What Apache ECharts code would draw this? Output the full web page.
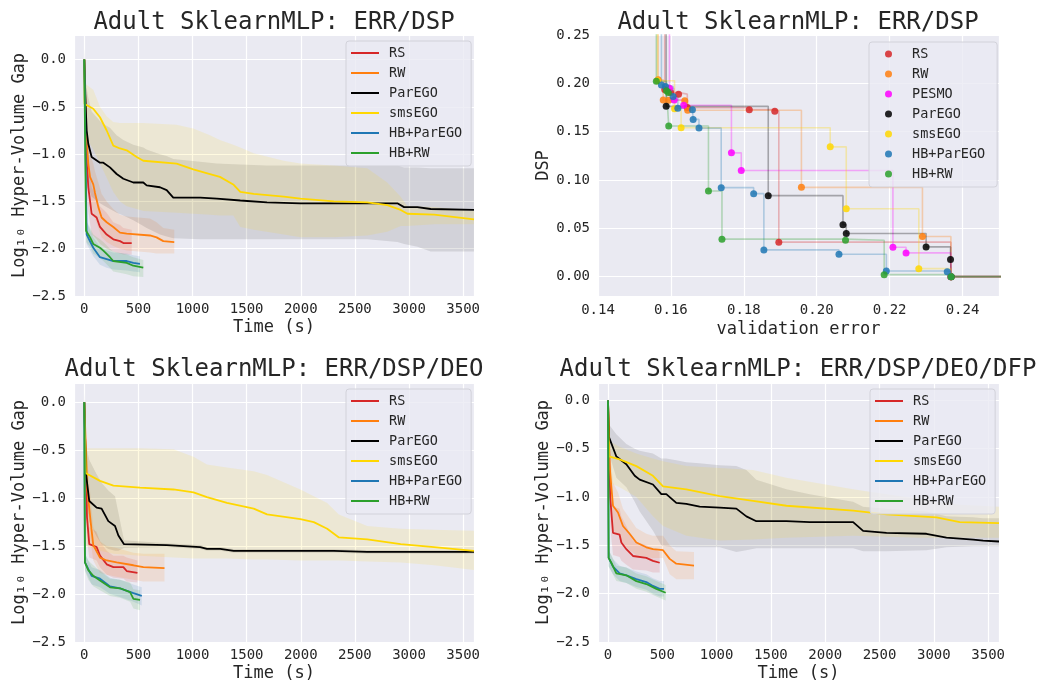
<!DOCTYPE html>
<html>
<head>
<meta charset="utf-8">
<script src="https://cdn.jsdelivr.net/npm/echarts@6/dist/echarts.min.js"></script>
<style>
  html, body { margin: 0; padding: 0; background: #ffffff; }
  #chart { width: 1038px; height: 683px; }
</style>
</head>
<body>
<div id="chart"></div>
<script>
// ---------------- data ----------------
const methods = ['RS', 'RW', 'ParEGO', 'smsEGO', 'HB+ParEGO', 'HB+RW'];
const frontMethods = ['RS', 'RW', 'PESMO', 'ParEGO', 'smsEGO', 'HB+ParEGO', 'HB+RW'];
const titles = [
  'Adult SklearnMLP: ERR/DSP',
  'Adult SklearnMLP: ERR/DSP',
  'Adult SklearnMLP: ERR/DSP/DEO',
  'Adult SklearnMLP: ERR/DSP/DEO/DFP'
];
const timeTicks = [0, 500, 1000, 1500, 2000, 2500, 3000, 3500];

// rows: [time (s), mean log10 HV gap, lower, upper]
// --- ERR/DSP ---
const d1_RS = [[0,0,0,0],[22,-1.07,-1.35,-0.85],[37,-1.35,-1.6,-1.1],[68,-1.63,-1.85,-1.35],[114,-1.67,-1.9,-1.45],[145,-1.77,-1.95,-1.55],[207,-1.85,-2.0,-1.62],[268,-1.9,-2.03,-1.72],[330,-1.92,-2.05,-1.75],[361,-1.94,-2.06,-1.78],[438,-1.94,-2.06,-1.8]];
const d1_RW = [[0,0,0,0],[16,-0.75,-1.0,-0.5],[37,-1.1,-1.35,-0.85],[53,-1.24,-1.5,-1.0],[83,-1.32,-1.6,-1.1],[99,-1.41,-1.68,-1.18],[130,-1.56,-1.78,-1.3],[160,-1.67,-1.88,-1.42],[207,-1.72,-1.93,-1.5],[268,-1.77,-1.97,-1.58],[330,-1.83,-2.0,-1.64],[392,-1.84,-2.02,-1.66],[607,-1.86,-2.04,-1.68],[668,-1.88,-2.05,-1.72],[730,-1.92,-2.05,-1.78],[831,-1.93,-2.05,-1.8]];
const d1_ParEGO = [[0,0,-0.1,0.12],[12,-0.47,-0.75,-0.2],[22,-0.75,-1.1,-0.3],[37,-0.89,-1.35,-0.4],[68,-1.03,-1.45,-0.55],[145,-1.09,-1.52,-0.65],[176,-1.09,-1.54,-0.68],[237,-1.14,-1.58,-0.72],[299,-1.21,-1.62,-0.8],[361,-1.26,-1.65,-0.85],[453,-1.3,-1.7,-0.9],[545,-1.3,-1.76,-0.93],[576,-1.33,-1.78,-0.95],[699,-1.35,-1.85,-1.0],[761,-1.38,-1.87,-1.02],[822,-1.46,-1.89,-1.05],[1071,-1.46,-1.9,-1.08],[1225,-1.47,-1.9,-1.1],[1441,-1.49,-1.9,-1.11],[1688,-1.51,-1.9,-1.12],[1997,-1.52,-1.9,-1.12],[2614,-1.52,-1.9,-1.12],[2892,-1.52,-1.93,-1.12],[2954,-1.56,-1.95,-1.14],[3077,-1.56,-1.98,-1.14],[3200,-1.58,-2.03,-1.15],[3600,-1.59,-2.03,-1.15]];
const d1_smsEGO = [[0,0,0,0],[3,-0.47,-0.8,-0.25],[83,-0.52,-0.95,-0.32],[145,-0.61,-1.1,-0.5],[207,-0.75,-1.25,-0.6],[268,-0.91,-1.4,-0.66],[330,-0.94,-1.5,-0.67],[392,-0.96,-1.55,-0.67],[484,-1.03,-1.58,-0.67],[545,-1.07,-1.6,-0.67],[853,-1.1,-1.62,-0.69],[1007,-1.16,-1.63,-0.73],[1161,-1.21,-1.64,-0.8],[1253,-1.24,-1.65,-0.85],[1376,-1.32,-1.65,-0.9],[1441,-1.4,-1.77,-0.93],[1565,-1.42,-1.8,-0.99],[1843,-1.45,-1.85,-1.07],[1997,-1.47,-1.88,-1.1],[2306,-1.5,-1.88,-1.12],[2614,-1.51,-1.86,-1.15],[2799,-1.54,-1.82,-1.3],[2923,-1.59,-1.76,-1.45],[2985,-1.63,-1.76,-1.55],[3231,-1.64,-1.74,-1.56],[3600,-1.69,-1.74,-1.6]];
const d1_HBParEGO = [[0,0,0,0],[22,-1.85,-1.95,-1.72],[83,-1.99,-2.08,-1.88],[145,-2.09,-2.17,-1.98],[207,-2.11,-2.2,-2.02],[268,-2.13,-2.22,-2.04],[392,-2.13,-2.23,-2.05],[453,-2.15,-2.24,-2.07],[514,-2.16,-2.25,-2.08]];
const d1_HBRW = [[0,0,0,0],[16,-1.81,-1.93,-1.7],[54,-1.88,-1.98,-1.78],[83,-1.95,-2.05,-1.85],[145,-1.99,-2.1,-1.9],[176,-2.02,-2.13,-1.93],[237,-2.09,-2.2,-2.0],[268,-2.13,-2.24,-2.03],[392,-2.15,-2.27,-2.06],[453,-2.18,-2.29,-2.09],[545,-2.2,-2.3,-2.12]];

// --- ERR/DSP/DEO ---
const d3_RS = [[0,0,0,0],[25,-1.2,-1.45,-0.85],[46,-1.48,-1.62,-1.3],[114,-1.51,-1.65,-1.35],[145,-1.6,-1.72,-1.45],[207,-1.69,-1.8,-1.55],[269,-1.72,-1.83,-1.6],[361,-1.72,-1.84,-1.6],[392,-1.76,-1.87,-1.62],[491,-1.78,-1.88,-1.65]];
const d3_RW = [[0,0,0,0],[28,-0.91,-1.2,-0.6],[59,-1.25,-1.45,-1.0],[83,-1.49,-1.65,-1.3],[145,-1.62,-1.78,-1.45],[207,-1.65,-1.8,-1.5],[299,-1.67,-1.82,-1.52],[454,-1.7,-1.85,-1.57],[546,-1.72,-1.87,-1.58],[741,-1.73,-1.87,-1.58]];
const d3_ParEGO = [[0,0,-0.1,0.1],[15,-0.74,-1.0,-0.45],[46,-1.03,-1.25,-0.6],[114,-1.1,-1.4,-0.75],[160,-1.11,-1.48,-0.84],[222,-1.24,-1.53,-0.92],[284,-1.29,-1.55,-0.98],[315,-1.39,-1.55,-1.15],[367,-1.48,-1.52,-1.44],[762,-1.49,-1.51,-1.47],[1071,-1.51,-1.53,-1.49],[1133,-1.53,-1.55,-1.51],[1256,-1.53,-1.55,-1.51],[1380,-1.55,-1.57,-1.53],[2306,-1.55,-1.57,-1.53],[2614,-1.56,-1.58,-1.54],[3600,-1.56,-1.58,-1.54]];
const d3_smsEGO = [[0,0,0,0],[15,-0.74,-1.5,-0.48],[145,-0.82,-1.55,-0.48],[269,-0.87,-1.58,-0.48],[515,-0.89,-1.6,-0.48],[824,-0.91,-1.62,-0.49],[1009,-0.94,-1.63,-0.57],[1133,-0.99,-1.63,-0.65],[1318,-1.05,-1.63,-0.68],[1565,-1.11,-1.64,-0.72],[1688,-1.17,-1.64,-0.76],[1997,-1.22,-1.65,-0.91],[2120,-1.25,-1.65,-0.98],[2244,-1.32,-1.65,-1.05],[2352,-1.41,-1.65,-1.17],[2614,-1.43,-1.66,-1.29],[2923,-1.48,-1.67,-1.32],[3231,-1.51,-1.7,-1.33],[3600,-1.55,-1.75,-1.34]];
const d3_HBParEGO = [[0,0,0,0],[6,-1.67,-1.75,-1.58],[68,-1.81,-1.9,-1.72],[145,-1.84,-1.93,-1.75],[238,-1.92,-2.0,-1.83],[330,-1.94,-2.03,-1.85],[454,-1.99,-2.08,-1.9],[531,-2.02,-2.12,-1.93]];
const d3_HBRW = [[0,0,0,0],[6,-1.67,-1.76,-1.58],[37,-1.75,-1.85,-1.65],[83,-1.81,-1.92,-1.7],[145,-1.86,-1.96,-1.76],[238,-1.93,-2.02,-1.84],[330,-1.94,-2.04,-1.85],[423,-1.98,-2.08,-1.88],[454,-2.05,-2.15,-1.95],[515,-2.06,-2.17,-1.96]];

// --- ERR/DSP/DEO/DFP ---
const d4_RS = [[0,0,0,0],[20,-1.0,-1.3,-0.7],[46,-1.37,-1.6,-1.1],[107,-1.39,-1.62,-1.12],[123,-1.47,-1.66,-1.2],[169,-1.54,-1.7,-1.3],[230,-1.61,-1.75,-1.45],[353,-1.63,-1.76,-1.5],[414,-1.66,-1.78,-1.53],[476,-1.68,-1.78,-1.57]];
const d4_RW = [[0,0,0,0],[15,-0.68,-0.95,-0.45],[46,-1.09,-1.35,-0.85],[92,-1.16,-1.38,-0.95],[138,-1.3,-1.48,-1.12],[199,-1.38,-1.55,-1.22],[261,-1.47,-1.6,-1.32],[353,-1.52,-1.62,-1.38],[414,-1.54,-1.63,-1.4],[507,-1.55,-1.63,-1.4],[568,-1.64,-1.8,-1.5],[629,-1.69,-1.85,-1.56],[792,-1.71,-1.85,-1.57]];
const d4_ParEGO = [[0,0,-0.05,0.05],[9,-0.38,-0.55,-0.25],[77,-0.58,-0.8,-0.35],[169,-0.66,-0.9,-0.45],[246,-0.78,-1.05,-0.5],[292,-0.82,-1.15,-0.52],[414,-0.87,-1.35,-0.55],[491,-0.97,-1.5,-0.6],[537,-0.97,-1.51,-0.6],[629,-1.06,-1.52,-0.62],[721,-1.07,-1.52,-0.64],[844,-1.1,-1.52,-0.65],[1029,-1.11,-1.52,-0.67],[1182,-1.12,-1.57,-0.68],[1274,-1.2,-1.55,-0.72],[1366,-1.25,-1.53,-0.82],[1643,-1.25,-1.53,-0.92],[1858,-1.26,-1.53,-0.97],[2257,-1.26,-1.53,-1.05],[2349,-1.35,-1.56,-1.1],[2564,-1.37,-1.56,-1.12],[2932,-1.38,-1.55,-1.15],[3116,-1.42,-1.52,-1.2],[3362,-1.44,-1.51,-1.21],[3454,-1.45,-1.51,-1.22],[3600,-1.46,-1.51,-1.22]];
const d4_smsEGO = [[0,0,0,0],[9,-0.58,-0.85,-0.42],[107,-0.61,-0.9,-0.48],[261,-0.68,-1.0,-0.55],[414,-0.78,-1.2,-0.6],[507,-0.89,-1.3,-0.63],[721,-0.92,-1.4,-0.68],[1029,-0.99,-1.45,-0.7],[1336,-1.04,-1.44,-0.72],[1643,-1.09,-1.42,-0.8],[2257,-1.14,-1.4,-0.92],[2564,-1.18,-1.41,-0.97],[2871,-1.2,-1.42,-1.02],[3024,-1.21,-1.42,-1.05],[3239,-1.26,-1.42,-1.08],[3600,-1.27,-1.42,-1.1]];
const d4_HBParEGO = [[0,0,0,0],[6,-1.63,-1.72,-1.55],[46,-1.72,-1.8,-1.64],[107,-1.79,-1.87,-1.71],[169,-1.81,-1.89,-1.73],[261,-1.85,-1.93,-1.77],[353,-1.88,-1.96,-1.8],[414,-1.92,-2.0,-1.84],[476,-1.95,-2.03,-1.87],[516,-1.95,-2.03,-1.87]];
const d4_HBRW = [[0,0,0,0],[6,-1.63,-1.72,-1.55],[31,-1.68,-1.77,-1.6],[77,-1.79,-1.87,-1.71],[169,-1.81,-1.89,-1.73],[261,-1.87,-1.95,-1.79],[353,-1.9,-1.98,-1.82],[445,-1.95,-2.03,-1.87],[531,-1.99,-2.07,-1.91]];

// Pareto fronts: [validation error, DSP]
const front_RS = [[0.1583,0.1935],[0.1599,0.1905],[0.1621,0.1888],[0.1645,0.1749],[0.1815,0.1728],[0.1885,0.1711],[0.1896,0.0357],[0.2368,0.0]];
const front_RW = [[0.1565,0.2036],[0.1579,0.1828],[0.1594,0.1825],[0.1638,0.1821],[0.1646,0.1721],[0.1958,0.0924],[0.229,0.0416],[0.2368,0.0]];
const front_PESMO = [[0.1596,0.1949],[0.1609,0.1828],[0.1635,0.1773],[0.1766,0.1281],[0.1793,0.1098],[0.2209,0.0305],[0.2245,0.0246],[0.2368,0.0]];
const front_ParEGO = [[0.1587,0.1762],[0.1867,0.0838],[0.2072,0.0537],[0.2081,0.0447],[0.23,0.0308],[0.2367,0.0177],[0.2369,0.0]];
const front_smsEGO = [[0.1563,0.2027],[0.161,0.1738],[0.1628,0.1541],[0.2037,0.1343],[0.2081,0.0703],[0.228,0.0083],[0.2368,0.0]];
const front_HBParEGO = [[0.1574,0.1984],[0.1585,0.1967],[0.1606,0.1863],[0.1619,0.1742],[0.1659,0.1728],[0.1661,0.1627],[0.1677,0.1537],[0.1738,0.0921],[0.1827,0.0859],[0.1855,0.0277],[0.2061,0.0232],[0.2191,0.0058],[0.2358,0.005],[0.2368,0.0]];
const front_HBRW = [[0.156,0.2022],[0.1588,0.1922],[0.1593,0.1904],[0.1594,0.1558],[0.1703,0.0886],[0.174,0.0388],[0.2079,0.0377],[0.2185,0.0021],[0.2369,0.0]];

// ---------------- styling ----------------
const FONT = 'DejaVu Sans Mono';
const INK = '#262626';
const colors = {
  'RS': '#d62728', 'RW': '#ff7f0e', 'PESMO': '#ff00ff', 'ParEGO': '#000000',
  'smsEGO': '#ffd700', 'HB+ParEGO': '#1f77b4', 'HB+RW': '#2ca02c'
};
const panels = [
  { grid: 0, rows: [d1_RS, d1_RW, d1_ParEGO, d1_smsEGO, d1_HBParEGO, d1_HBRW] },
  { grid: 2, rows: [d3_RS, d3_RW, d3_ParEGO, d3_smsEGO, d3_HBParEGO, d3_HBRW] },
  { grid: 3, rows: [d4_RS, d4_RW, d4_ParEGO, d4_smsEGO, d4_HBParEGO, d4_HBRW] }
];
const fronts = [front_RS, front_RW, front_PESMO, front_ParEGO, front_smsEGO, front_HBParEGO, front_HBRW];
const ERR_MIN = 0.14, ERR_MAX = 0.25, DSP_MIN = -0.02, DSP_MAX = 0.25;

const grids = [
  { left: 74, top: 35, width: 400, height: 261 },
  { left: 598, top: 35, width: 401, height: 261 },
  { left: 74, top: 383, width: 400, height: 260 },
  { left: 598, top: 383, width: 401, height: 260 }
].map(g => Object.assign(g, { show: true, backgroundColor: '#eaeaf2', borderWidth: 0 }));

const isMultiple = (v, step) => Math.abs(v / step - Math.round(v / step)) < 1e-6;
const minus = s => s.replace('-', '\u2212');

function baseAxis(gridIndex) {
  return {
    type: 'value', gridIndex,
    axisLine: { show: false }, axisTick: { show: false },
    splitLine: { show: true, lineStyle: { color: '#ffffff', width: 1.2 } },
    nameTextStyle: { fontFamily: FONT, fontSize: 17, color: INK },
    nameLocation: 'middle'
  };
}
function timeAxis(gridIndex, min) {
  return Object.assign(baseAxis(gridIndex), {
    min, max: 3600, splitNumber: 7,
    name: 'Time (s)', nameGap: 23,
    axisLabel: {
      fontFamily: FONT, fontSize: 14, color: INK, margin: 6,
      formatter: v => timeTicks.indexOf(Math.round(v)) >= 0 && isMultiple(v, 500) ? String(Math.round(v)) : ''
    }
  });
}
function gapAxis(gridIndex, max) {
  return Object.assign(baseAxis(gridIndex), {
    min: -2.5, max, interval: 0.5,
    name: 'Log\u2081\u2080 Hyper-Volume Gap', nameGap: 46,
    axisLabel: {
      fontFamily: FONT, fontSize: 14, color: INK, margin: 8,
      formatter: v => isMultiple(v, 0.5) && v <= 0 ? minus(v.toFixed(1)) : ''
    }
  });
}

const xAxes = [
  timeAxis(0, -95),
  Object.assign(baseAxis(1), {
    min: ERR_MIN, max: ERR_MAX, interval: 0.02,
    name: 'validation error', nameGap: 25,
    axisLabel: { fontFamily: FONT, fontSize: 14, color: INK, margin: 7,
      formatter: v => isMultiple(v, 0.02) && v < 0.245 ? v.toFixed(2) : '' }
  }),
  timeAxis(2, -95),
  timeAxis(3, -92)
];
const yAxes = [
  gapAxis(0, 0.26),
  Object.assign(baseAxis(1), {
    min: DSP_MIN, max: DSP_MAX, splitNumber: 5,
    name: 'DSP', nameGap: 46,
    axisLabel: { fontFamily: FONT, fontSize: 14, color: INK, margin: 8,
      formatter: v => isMultiple(v, 0.05) && v >= 0 ? v.toFixed(2) : '' }
  }),
  gapAxis(2, 0.2),
  gapAxis(3, 0.18)
];

// ---------------- series ----------------
const series = [];

// shaded spread: polygon between lower and upper curves
function bandSeries(name, rows, gridIndex, color, opacity) {
  return {
    type: 'custom', name: name + ' spread', xAxisIndex: gridIndex, yAxisIndex: gridIndex,
    data: rows.map(r => [r[0], r[2], r[3]]),
    encode: { x: 0, y: [1, 2] },
    silent: true, clip: true, z: 1,
    renderItem: function (params, api) {
      if (params.dataIndex !== 0) return null;
      const upper = rows.map(r => api.coord([r[0], r[3]]));
      const lower = rows.map(r => api.coord([r[0], r[2]])).reverse();
      return { type: 'polygon', shape: { points: upper.concat(lower) }, style: { fill: color, opacity: opacity } };
    }
  };
}

panels.forEach(p => {
  methods.forEach((m, i) => {
    const op = (m === 'ParEGO') ? 0.1 : (m === 'smsEGO' ? 0.12 : 0.13);
    series.push(bandSeries(m, p.rows[i], p.grid, colors[m], op));
  });
  methods.forEach((m, i) => {
    series.push({
      type: 'line', name: m, xAxisIndex: p.grid, yAxisIndex: p.grid,
      data: p.rows[i].map(r => [r[0], r[1]]),
      symbol: 'none', clip: true, z: 3,
      lineStyle: { color: colors[m], width: 1.8 },
      itemStyle: { color: colors[m] }
    });
  });
});

// Pareto front staircases and their points
frontMethods.forEach((m, i) => {
  const pts = fronts[i];
  const last = pts[pts.length - 1];
  series.push({
    type: 'line', name: m + ' front', xAxisIndex: 1, yAxisIndex: 1,
    data: [[pts[0][0], DSP_MAX + 0.01]].concat(pts, [[ERR_MAX + 0.01, last[1]]]),
    step: 'end', symbol: 'none', clip: true, silent: true, z: 2,
    lineStyle: { color: colors[m], width: 1.6, opacity: 0.3 }
  });
});
frontMethods.forEach((m, i) => {
  series.push({
    type: 'scatter', name: m, xAxisIndex: 1, yAxisIndex: 1,
    data: fronts[i], symbolSize: 7, z: 4,
    itemStyle: { color: colors[m], opacity: 0.85 }
  });
});

// ---------------- legends & titles ----------------
function legendBox(left, top, names, icon, itemWidth, itemHeight, alpha, padding, textPad) {
  return {
    orient: 'vertical', left, top,
    itemWidth, itemHeight, itemGap: 0, icon,
    padding,
    backgroundColor: 'rgba(234,234,242,0.8)', borderColor: '#d2d2da', borderWidth: 1, borderRadius: 3,
    textStyle: { fontFamily: FONT, fontSize: 13.5, color: INK, lineHeight: 20, padding: [0, 0, 0, textPad] },
    selectedMode: false,
    data: names.map(n => ({ name: n, icon, itemStyle: { color: colors[n], opacity: alpha, borderWidth: 0 } }))
  };
}
const legends = [
  legendBox(346, 41, methods, 'rect', 28, 2, 1, [2, 9, 3, 5], 5),
  legendBox(869, 42, frontMethods, 'circle', 7, 7, 0.85, [2, 12, 3, 16], 15),
  legendBox(346, 389, methods, 'rect', 28, 2, 1, [2, 9, 3, 5], 5),
  legendBox(870, 389, methods, 'rect', 28, 2, 1, [2, 9, 3, 5], 5)
];

const titleCenters = [[274, 11], [798, 11], [274, 358], [798, 358]];
const titleOpts = titles.map((t, i) => ({
  text: t, left: titleCenters[i][0], top: titleCenters[i][1], textAlign: 'center', padding: 0,
  textStyle: { fontFamily: FONT, fontSize: 24, fontWeight: 'normal', color: INK }
}));

const chart = echarts.init(document.getElementById('chart'), null, { renderer: 'canvas' });
chart.setOption({
  backgroundColor: '#ffffff',
  animation: false,
  title: titleOpts,
  legend: legends,
  grid: grids,
  xAxis: xAxes,
  yAxis: yAxes,
  series
});
</script>
</body>
</html>
